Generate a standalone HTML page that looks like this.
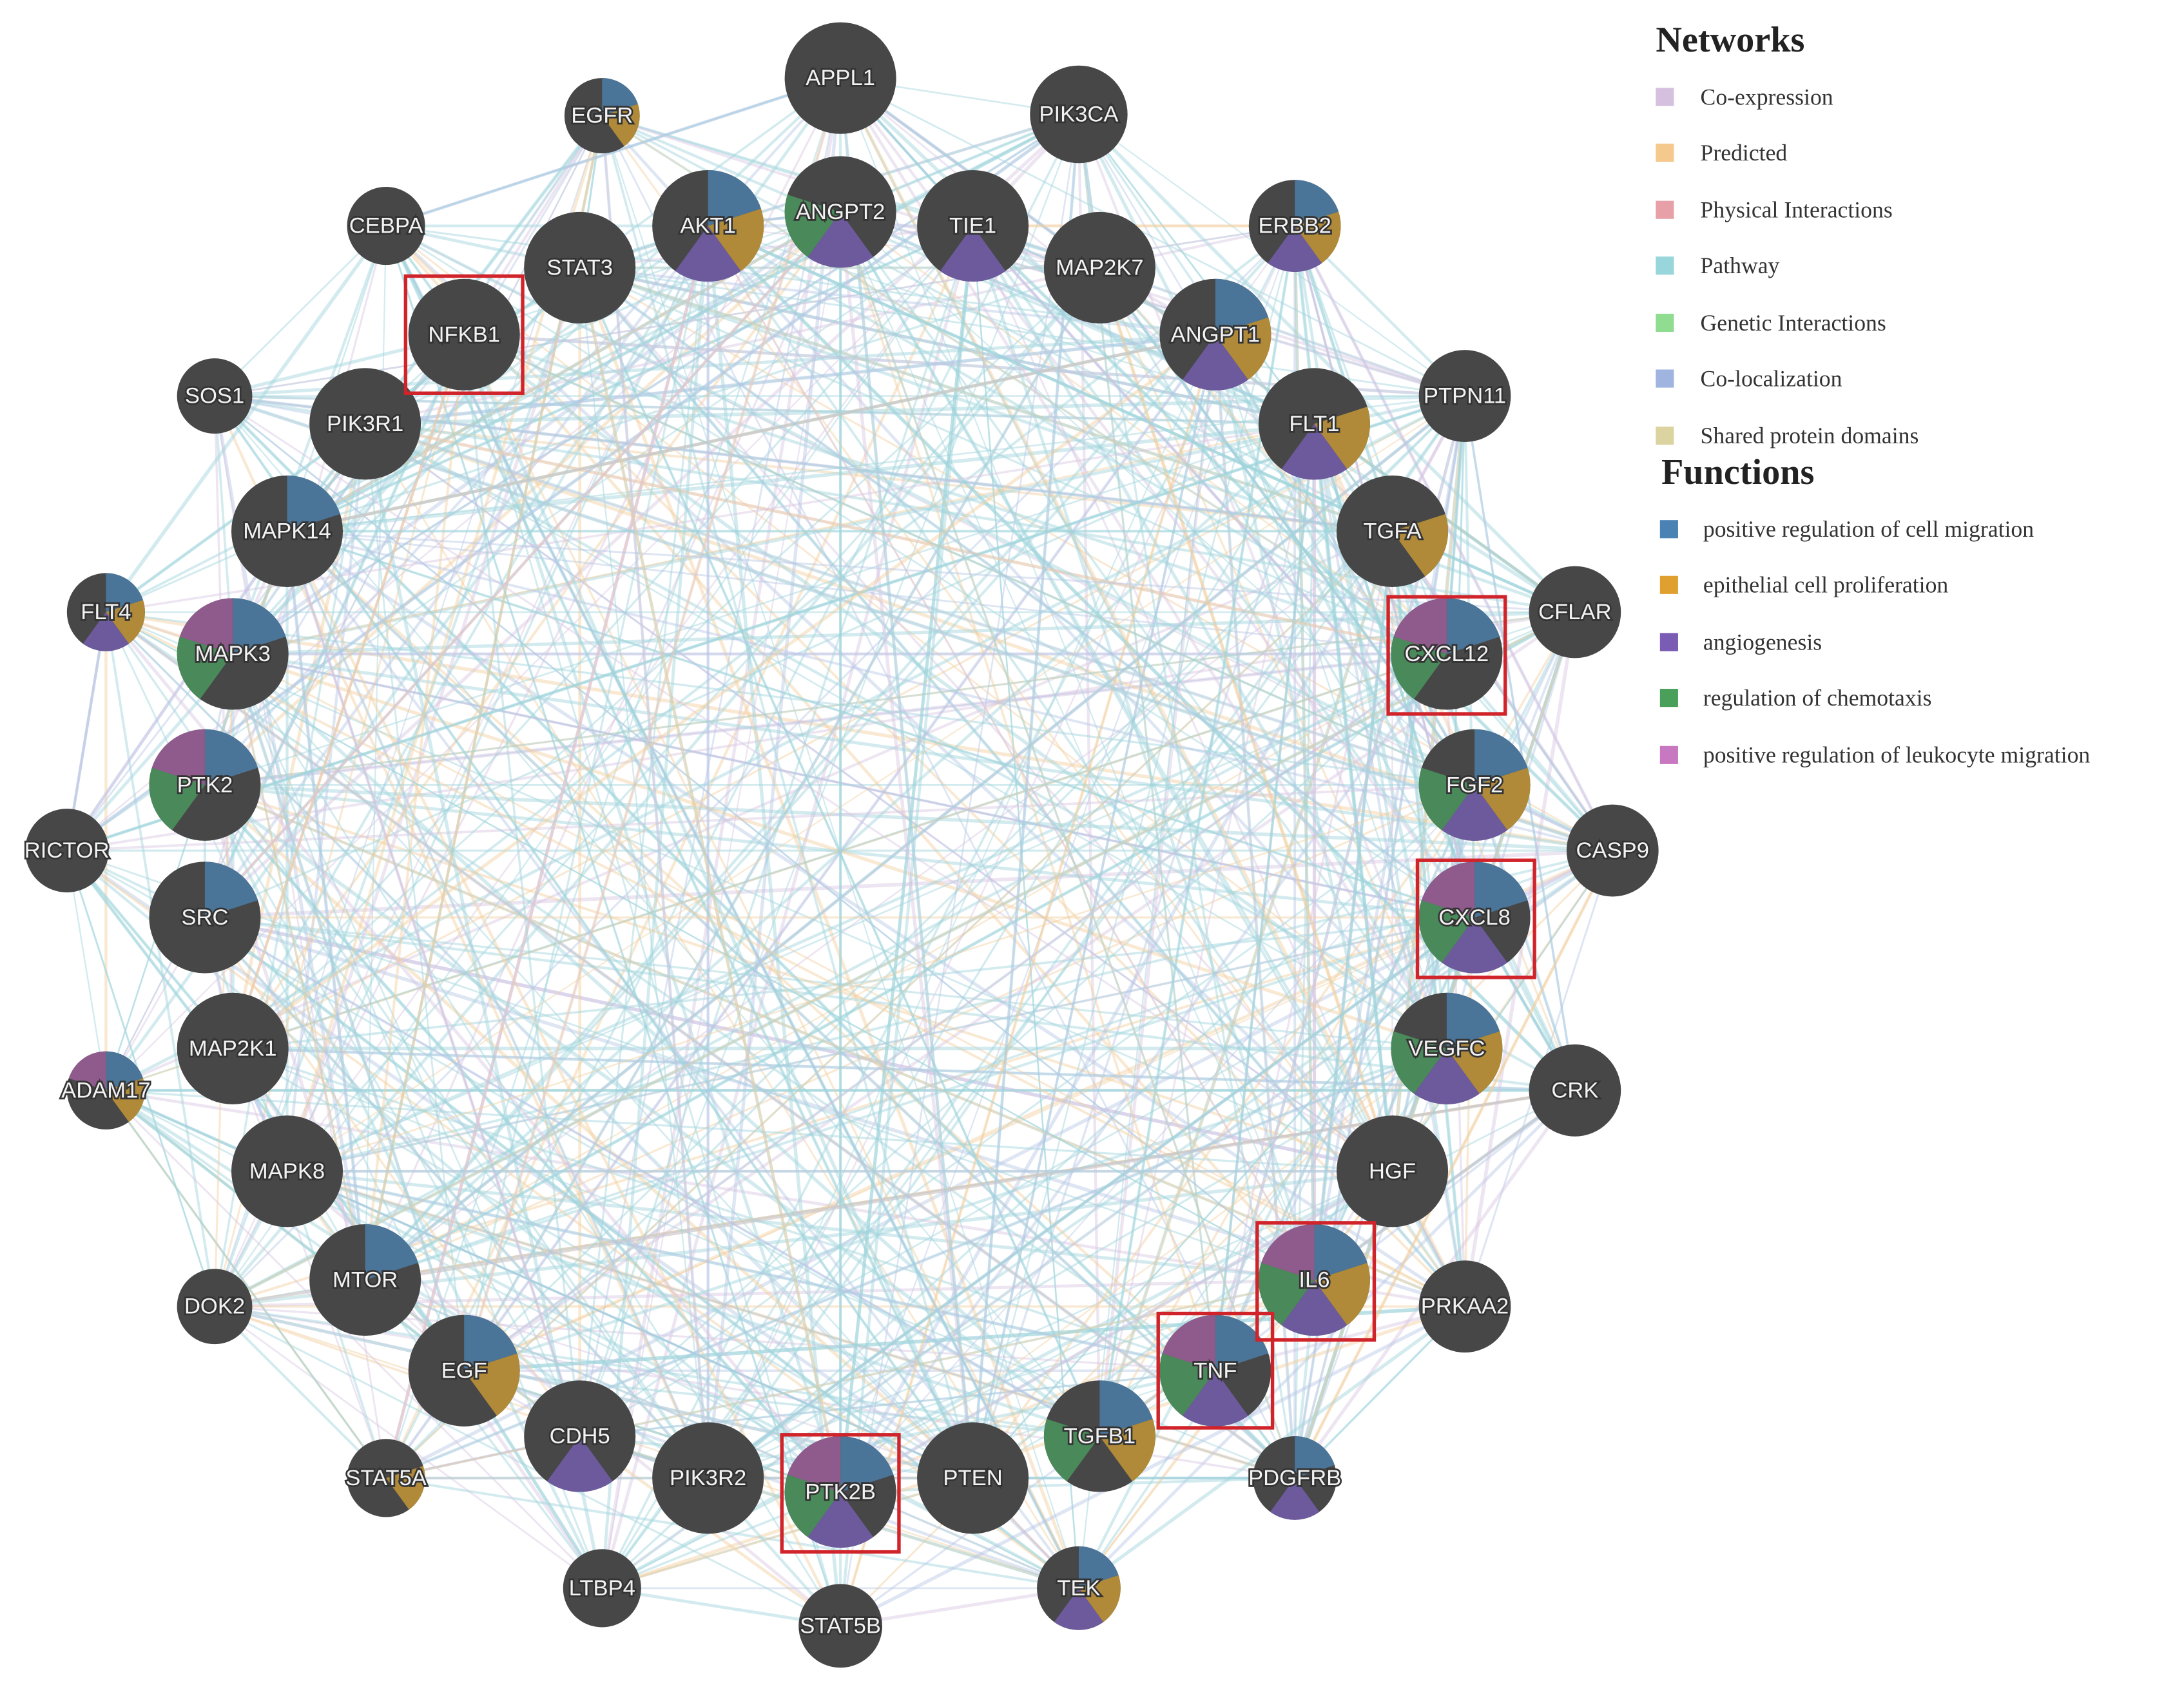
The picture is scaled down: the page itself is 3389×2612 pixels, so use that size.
<!DOCTYPE html>
<html><head><meta charset="utf-8"><style>
html,body{margin:0;padding:0;background:#fff}
svg{display:block}
.n{font-family:"Liberation Sans",sans-serif;font-size:16px;fill:#f2f2f2;text-anchor:middle;dominant-baseline:central;stroke:#333;stroke-width:2.5px;paint-order:stroke}
.lg{font-family:"Liberation Serif",serif;font-size:16.5px;fill:#333}
.lh{font-family:"Liberation Serif",serif;font-size:26px;font-weight:bold;fill:#222}
</style></head><body>
<svg id="s" width="3389" height="2612" viewBox="0 0 1567 1207" preserveAspectRatio="none" xmlns="http://www.w3.org/2000/svg">
<g id="edges"></g>
<g id="nodes"></g>
<g id="labels">
<text class="n" x="603" y="56">APPL1</text>
<text class="n" x="774" y="82">PIK3CA</text>
<text class="n" x="432" y="83">EGFR</text>
<text class="n" x="277" y="162">CEBPA</text>
<text class="n" x="508" y="162">AKT1</text>
<text class="n" x="603" y="152">ANGPT2</text>
<text class="n" x="698" y="162">TIE1</text>
<text class="n" x="416" y="192">STAT3</text>
<text class="n" x="789" y="192">MAP2K7</text>
<text class="n" x="929" y="162">ERBB2</text>
<text class="n" x="333" y="240">NFKB1</text>
<text class="n" x="872" y="240">ANGPT1</text>
<text class="n" x="154" y="284">SOS1</text>
<text class="n" x="262" y="304">PIK3R1</text>
<text class="n" x="943" y="304">FLT1</text>
<text class="n" x="1051" y="284">PTPN11</text>
<text class="n" x="206" y="381">MAPK14</text>
<text class="n" x="999" y="381">TGFA</text>
<text class="n" x="76" y="439">FLT4</text>
<text class="n" x="1130" y="439">CFLAR</text>
<text class="n" x="167" y="469">MAPK3</text>
<text class="n" x="1038" y="469">CXCL12</text>
<text class="n" x="1058" y="563">FGF2</text>
<text class="n" x="147" y="563">PTK2</text>
<text class="n" x="48" y="610">RICTOR</text>
<text class="n" x="1157" y="610">CASP9</text>
<text class="n" x="147" y="658">SRC</text>
<text class="n" x="1058" y="658">CXCL8</text>
<text class="n" x="167" y="752">MAP2K1</text>
<text class="n" x="1038" y="752">VEGFC</text>
<text class="n" x="76" y="782">ADAM17</text>
<text class="n" x="1130" y="782">CRK</text>
<text class="n" x="206" y="840">MAPK8</text>
<text class="n" x="999" y="840">HGF</text>
<text class="n" x="262" y="918">MTOR</text>
<text class="n" x="943" y="918">IL6</text>
<text class="n" x="154" y="937">DOK2</text>
<text class="n" x="1051" y="937">PRKAA2</text>
<text class="n" x="333" y="983">EGF</text>
<text class="n" x="872" y="983">TNF</text>
<text class="n" x="416" y="1030">CDH5</text>
<text class="n" x="789" y="1030">TGFB1</text>
<text class="n" x="277" y="1060">STAT5A</text>
<text class="n" x="508" y="1060">PIK3R2</text>
<text class="n" x="603" y="1070">PTK2B</text>
<text class="n" x="698" y="1060">PTEN</text>
<text class="n" x="929" y="1060">PDGFRB</text>
<text class="n" x="432" y="1139">LTBP4</text>
<text class="n" x="603" y="1166">STAT5B</text>
<text class="n" x="774" y="1139">TEK</text>
</g>
<g fill="none" stroke="#d0242a" stroke-width="2.5">
<rect x="291" y="198" width="84" height="84"/>
<rect x="996" y="428" width="84" height="84"/>
<rect x="1017" y="617" width="84" height="84"/>
<rect x="902" y="877" width="84" height="84"/>
<rect x="831" y="942" width="82" height="82"/>
<rect x="561" y="1029" width="84" height="84"/>
</g>
<g>
<text class="lh" x="1188" y="37">Networks</text>
<rect x="1188" y="63" width="13" height="13" fill="#d6c0e0"/><text class="lg" x="1220" y="75">Co-expression</text>
<rect x="1188" y="103" width="13" height="13" fill="#f5c88e"/><text class="lg" x="1220" y="115">Predicted</text>
<rect x="1188" y="144" width="13" height="13" fill="#e8a0a8"/><text class="lg" x="1220" y="156">Physical Interactions</text>
<rect x="1188" y="184" width="13" height="13" fill="#98d6dc"/><text class="lg" x="1220" y="196">Pathway</text>
<rect x="1188" y="225" width="13" height="13" fill="#90dc90"/><text class="lg" x="1220" y="237">Genetic Interactions</text>
<rect x="1188" y="265" width="13" height="13" fill="#a0b4e0"/><text class="lg" x="1220" y="277">Co-localization</text>
<rect x="1188" y="306" width="13" height="13" fill="#dcd4a0"/><text class="lg" x="1220" y="318">Shared protein domains</text>
<text class="lh" x="1192" y="347">Functions</text>
<rect x="1191" y="373" width="13" height="13" fill="#4a82b4"/><text class="lg" x="1222" y="385">positive regulation of cell migration</text>
<rect x="1191" y="413" width="13" height="13" fill="#e0a030"/><text class="lg" x="1222" y="425">epithelial cell proliferation</text>
<rect x="1191" y="454" width="13" height="13" fill="#7a5cb4"/><text class="lg" x="1222" y="466">angiogenesis</text>
<rect x="1191" y="494" width="13" height="13" fill="#4aa05a"/><text class="lg" x="1222" y="506">regulation of chemotaxis</text>
<rect x="1191" y="535" width="13" height="13" fill="#c878c0"/><text class="lg" x="1222" y="547">positive regulation of leukocyte migration</text>
</g>
</svg>
<script>
var N=[[603,56,40,""],[774,82,35,""],[432,83,27,"bo"],[277,162,28,""],[508,162,40,"bop"],[603,152,40,"pg"],[698,162,40,"p"],[416,192,40,""],[789,192,40,""],[929,162,33,"bop"],[333,240,40,""],[872,240,40,"bop"],[154,284,27,""],[262,304,40,""],[943,304,40,"op"],[1051,284,33,""],[206,381,40,"b"],[999,381,40,"o"],[76,439,28,"bop"],[1130,439,33,""],[167,469,40,"bgk"],[1038,469,40,"bgk"],[1058,563,40,"bopg"],[147,563,40,"bgk"],[48,610,30,""],[1157,610,33,""],[147,658,40,"b"],[1058,658,40,"bpgk"],[167,752,40,""],[1038,752,40,"bopg"],[76,782,28,"bok"],[1130,782,33,""],[206,840,40,""],[999,840,40,""],[262,918,40,"b"],[943,918,40,"bopgk"],[154,937,27,""],[1051,937,33,""],[333,983,40,"bo"],[872,983,40,"bpgk"],[416,1030,40,"p"],[789,1030,40,"bog"],[277,1060,28,"o"],[508,1060,40,""],[603,1070,40,"bpgk"],[698,1060,40,""],[929,1060,30,"bp"],[432,1139,28,""],[603,1166,30,""],[774,1139,30,"bop"]];
var C={b:"#4a7498",o:"#b08a38",p:"#6c5a9c",g:"#4a8a5a",k:"#8f5a8c"},ord="bopgk";
var ns="http://www.w3.org/2000/svg",E=document.getElementById("edges"),G=document.getElementById("nodes");
var seed=7;function r(){seed=(seed*1103515245+12345)%2147483648;return seed/2147483648;}
var cols=["#9fd5dc","#9fd5dc","#9fd5dc","#9fd5dc","#f2cfa0","#d9c6e2","#b8c6e6"];
for(var i=0;i<850;i++){var a=N[Math.floor(r()*N.length)],b=N[Math.floor(r()*N.length)];if(a===b)continue;
var l=document.createElementNS(ns,"line");l.setAttribute("x1",a[0]);l.setAttribute("y1",a[1]);l.setAttribute("x2",b[0]);l.setAttribute("y2",b[1]);
l.setAttribute("stroke",cols[Math.floor(r()*cols.length)]);l.setAttribute("stroke-width",(1+r()*1.6).toFixed(1));l.setAttribute("opacity","0.45");E.appendChild(l);}
N.forEach(function(n){var c=document.createElementNS(ns,"circle");c.setAttribute("cx",n[0]);c.setAttribute("cy",n[1]);c.setAttribute("r",n[2]);c.setAttribute("fill","#474747");G.appendChild(c);
for(var k=0;k<5;k++){if(n[3].indexOf(ord[k])<0)continue;var a1=(k*72-90)*Math.PI/180,a2=((k+1)*72-90)*Math.PI/180;
var x1=n[0]+n[2]*Math.cos(a1),y1=n[1]+n[2]*Math.sin(a1),x2=n[0]+n[2]*Math.cos(a2),y2=n[1]+n[2]*Math.sin(a2);
var p=document.createElementNS(ns,"path");p.setAttribute("d","M"+n[0]+","+n[1]+"L"+x1+","+y1+"A"+n[2]+","+n[2]+" 0 0 1 "+x2+","+y2+"Z");p.setAttribute("fill",C[ord[k]]);G.appendChild(p);}});
</script>
</body></html>
